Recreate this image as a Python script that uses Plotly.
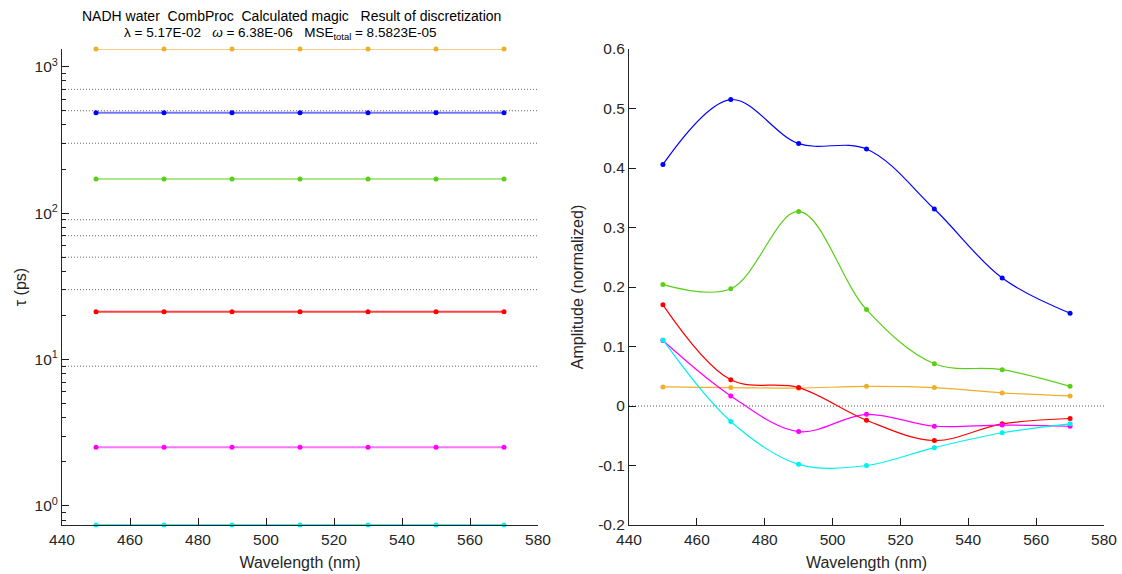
import plotly.graph_objects as go

wavelength = [450, 470, 490, 510, 530, 550, 570]

# lifetimes (ps) per component
tau_orange = 1320
tau_blue = 484
tau_green = 171
tau_red = 21.2
tau_magenta = 2.52
tau_cyan = 0.741

# discretization grid lines (ps)
grid_tau = [700, 500, 300, 90, 70, 50, 30, 9]

# amplitudes (normalized)
amp_blue = [0.406, 0.515, 0.441, 0.432, 0.331, 0.215, 0.156]
amp_green = [0.204, 0.197, 0.327, 0.162, 0.071, 0.061, 0.033]
amp_orange = [0.032, 0.031, 0.030, 0.033, 0.031, 0.022, 0.017]
amp_red = [0.170, 0.044, 0.031, -0.024, -0.058, -0.030, -0.021]
amp_magenta = [0.110, 0.017, -0.043, -0.014, -0.034, -0.032, -0.034]
amp_cyan = [0.111, -0.026, -0.098, -0.100, -0.070, -0.045, -0.030]

x_ticks = [440, 460, 480, 500, 520, 540, 560, 580]
amp_ticks = [-0.2, -0.1, 0, 0.1, 0.2, 0.3, 0.4, 0.5, 0.6]
amp_ticktext = ["-0.2", "-0.1", "0", "0.1", "0.2", "0.3", "0.4", "0.5", "0.6"]
tau_ticks = [1, 10, 100, 1000]
tau_ticktext = ["10<sup>0</sup>", "10<sup>1</sup>", "10<sup>2</sup>", "10<sup>3</sup>"]

colors = {
    "orange": "#EFAE2B",
    "blue": "#0000FF",
    "green": "#5ACF16",
    "red": "#FF0000",
    "magenta": "#FF00FF",
    "cyan": "#00F0F0",
}
light = {
    "orange": "rgba(239,174,43,0.6)",
    "blue": "rgba(0,0,255,0.55)",
    "green": "rgba(90,207,22,0.5)",
    "red": "rgba(255,0,0,0.75)",
    "magenta": "rgba(255,0,255,0.55)",
    "cyan": "rgba(0,220,220,0.7)",
}

fig = go.Figure()

for g in grid_tau:
    fig.add_trace(go.Scatter(x=[440, 580], y=[g, g], mode="lines",
                             line=dict(color="#666666", width=1, dash="1px,2px"),
                             xaxis="x", yaxis="y", showlegend=False, hoverinfo="skip"))

taus = [("orange", tau_orange), ("blue", tau_blue), ("green", tau_green),
        ("red", tau_red), ("magenta", tau_magenta), ("cyan", tau_cyan)]
for name, t in taus:
    fig.add_trace(go.Scatter(x=wavelength, y=[t] * len(wavelength), mode="lines+markers",
                             line=dict(color=light[name], width=2),
                             marker=dict(color=colors[name], size=5),
                             xaxis="x", yaxis="y", showlegend=False, cliponaxis=False))

fig.add_trace(go.Scatter(x=[440, 580], y=[0, 0], mode="lines",
                         line=dict(color="#555555", width=1, dash="1px,2px"),
                         xaxis="x2", yaxis="y2", showlegend=False, hoverinfo="skip"))

amps = [("orange", amp_orange), ("blue", amp_blue), ("green", amp_green),
        ("red", amp_red), ("magenta", amp_magenta), ("cyan", amp_cyan)]
for name, a in amps:
    fig.add_trace(go.Scatter(x=wavelength, y=a, mode="lines+markers",
                             line=dict(color=colors[name], width=1.2, shape="spline", smoothing=1.0),
                             marker=dict(color=colors[name], size=5),
                             xaxis="x2", yaxis="y2", showlegend=False))

FONT = "Liberation Sans, Arial"
axis_common = dict(
    showline=True, linecolor="#262626", linewidth=1, mirror=False, automargin=False,
    ticks="inside", ticklen=7, tickwidth=1.3, tickcolor="#1a1a1a", showgrid=False, zeroline=False,
    tickfont=dict(family=FONT, size=15.5, color="#262626"),
)
title_font = dict(family=FONT, size=16, color="#262626")

fig.update_layout(
    width=1122, height=574,
    margin=dict(l=0, r=0, t=0, b=0),
    paper_bgcolor="white", plot_bgcolor="white",
    xaxis=dict(domain=[62 / 1122, 538 / 1122], range=[440, 580], tickvals=x_ticks,
               title=dict(text="Wavelength (nm)", standoff=10, font=title_font),
               anchor="y", **axis_common),
    yaxis=dict(domain=[1 - 525 / 574, 1 - 49 / 574], type="log",
               range=[-0.1302, 3.1206], tickvals=tau_ticks, ticktext=tau_ticktext,
               minor=dict(ticks="inside", ticklen=4, tickwidth=1.3, tickcolor="#1a1a1a",
                          showgrid=False, dtick="D1"),
               title=dict(text="τ (ps)", standoff=4, font=title_font),
               anchor="x", **axis_common),
    xaxis2=dict(domain=[629 / 1122, 1104 / 1122], range=[440, 580], tickvals=x_ticks,
                title=dict(text="Wavelength (nm)", standoff=10, font=title_font),
                anchor="y2", **axis_common),
    yaxis2=dict(domain=[1 - 525 / 574, 1 - 49 / 574], range=[-0.2, 0.6],
                tickvals=amp_ticks, ticktext=amp_ticktext,
                title=dict(text="Amplitude (normalized)", standoff=10, font=title_font),
                anchor="x2", **axis_common),
    annotations=[
        dict(text="NADH water  CombProc  Calculated magic   Result of discretization",
             x=291 / 1122, y=1 - 16 / 574, xref="paper", yref="paper",
             xanchor="center", yanchor="middle", showarrow=False,
             font=dict(family=FONT, size=14, color="black")),
        dict(text="λ = 5.17E-02   <i>ω</i> = 6.38E-06   MSE<sub>total</sub> = 8.5823E-05",
             x=280 / 1122, y=1 - 34 / 574, xref="paper", yref="paper",
             xanchor="center", yanchor="middle", showarrow=False,
             font=dict(family=FONT, size=13.5, color="black")),
    ],
)

fig.write_html("out.html")
